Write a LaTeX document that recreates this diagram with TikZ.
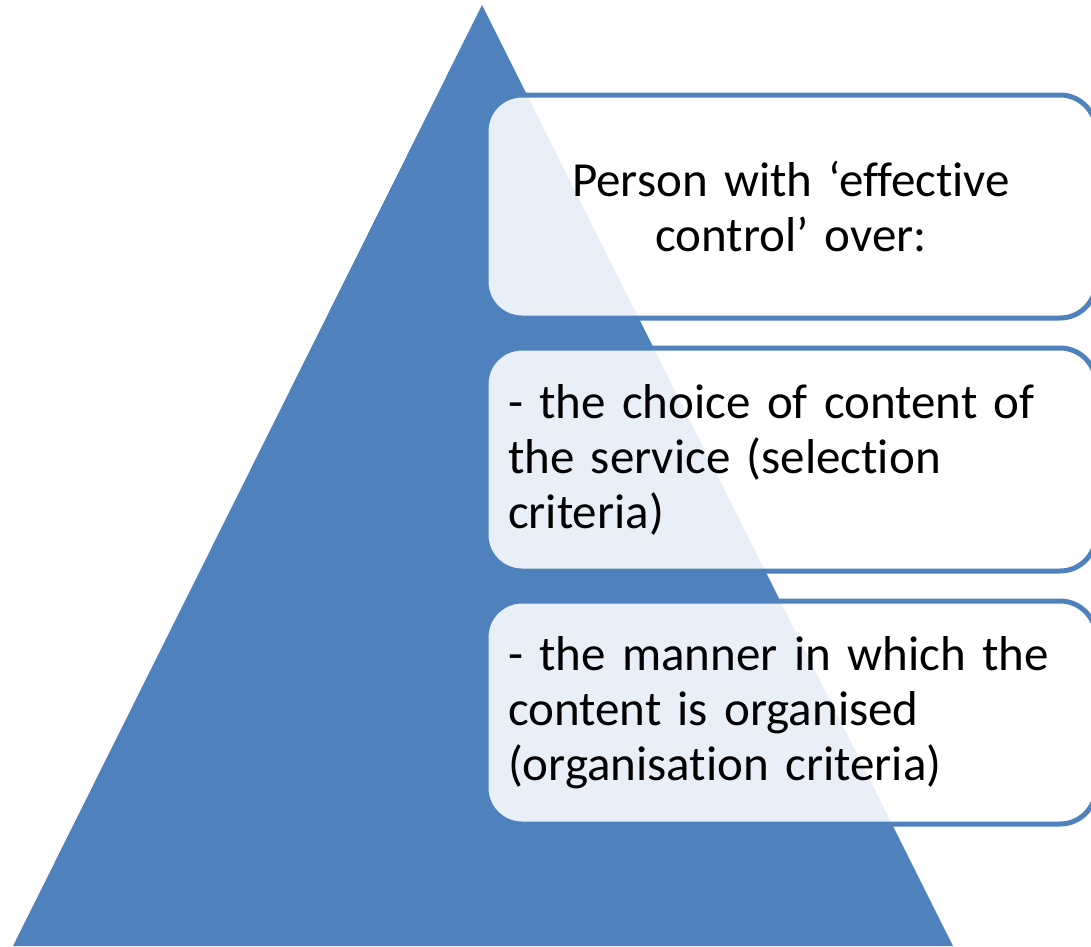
\documentclass[tikz,border=0pt]{standalone}
\usepackage{fontspec}
\setmainfont{Carlito}[Ligatures={NoCommon,NoContextual}]
\definecolor{pyramidblue}{HTML}{4F81BD}

\begin{document}
\begin{tikzpicture}[x=1pt,y=-1pt,
		level/.style={draw=pyramidblue,line width=5pt,rounded corners=36pt,
			fill=white,fill opacity=0.88,text opacity=1,outer sep=0pt,
			minimum width=610pt,minimum height=223pt,inner xsep=22pt,inner ysep=0pt,
			text width=566pt,anchor=north west,font=\fontsize{49}{55}\selectfont}]
				\useasboundingbox (0,0) rectangle (1091,946);
				% pyramid
				\fill[pyramidblue] (482,5) -- (953,946) -- (13,946) -- cycle;
				% levels
				\node[level,align=center] (top) at (486,95) {Person with ‘effective\\control’ over:};
				\node[level,align=left] (choice) at (486,348) {- the choice of content of\\the service (selection\\criteria)};
				\node[level,align=left] (manner) at (486,601) {- the manner in which the\\content is organised\\(organisation criteria)};
			\end{tikzpicture}
\end{document}
